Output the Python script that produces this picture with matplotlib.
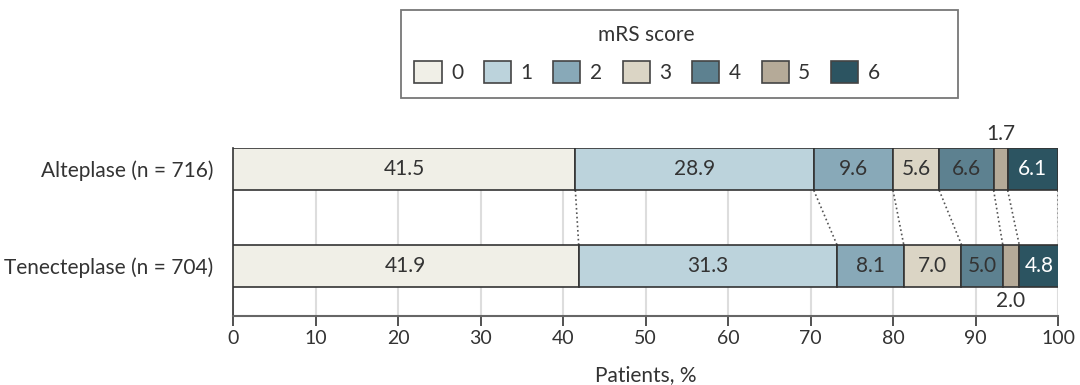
import matplotlib
matplotlib.use("Agg")
import matplotlib.pyplot as plt
from matplotlib.patches import Patch, Rectangle
import numpy as np

plt.rcParams['font.family'] = ['Lato', 'DejaVu Sans']

groups = ["Tenecteplase (n = 704)", "Alteplase (n = 716)"]
scores = ["0", "1", "2", "3", "4", "5", "6"]
tenecteplase = [41.9, 31.3, 8.1, 7.0, 5.0, 2.0, 4.8]
alteplase = [41.5, 28.9, 9.6, 5.6, 6.6, 1.7, 6.1]
colors = ["#f0efe7", "#bcd3dc", "#88a9b8", "#dbd5c5", "#5d8190", "#b5aa98", "#2c5461"]
text_colors = ["#333333"] * 6 + ["white"]

fig = plt.figure(figsize=(10.8, 3.85), dpi=100)
ax = fig.add_axes([233 / 1080, 1 - 316 / 385, 825 / 1080, 168 / 385])

h = 0.44
data = [tenecteplase, alteplase]
for yi, vals in enumerate(data):
    left = 0
    for k, v in enumerate(vals):
        ax.barh(yi, v, left=left, height=h, color=colors[k],
                edgecolor="#333333", linewidth=1.2, zorder=3)
        cx = left + v / 2
        if k == 5:
            # small segment: label outside the bar
            if yi == 1:
                ax.text(cx, yi + h / 2 + 0.04, "%.1f" % v, ha="center", va="bottom",
                        fontsize=15, color="#333333", clip_on=False)
            else:
                ax.text(cx, yi - h / 2 - 0.04, "%.1f" % v, ha="center", va="top",
                        fontsize=15, color="#333333")
        else:
            ax.text(cx, yi, "%.1f" % v, ha="center", va="center",
                    fontsize=15, color=text_colors[k], zorder=4)
        left += v

# dotted connectors between the bars
cum_a = np.cumsum(alteplase)
cum_t = np.cumsum(tenecteplase)
for a, t in zip(cum_a, cum_t):
    ax.plot([a, t], [1 - h / 2, h / 2], ls=":", color="#555555", lw=1.2, zorder=2)

ax.set_xlim(0, 100)
ax.set_ylim(-0.515, 1.216)
ax.set_xticks(range(0, 101, 10))
ax.set_yticks([0, 1])
ax.set_yticklabels(groups, fontsize=15, color="#333333")
ax.tick_params(axis="y", length=0, pad=14)
ax.tick_params(axis="x", labelsize=14, colors="#333333", length=7, width=1.2, pad=3)
ax.xaxis.grid(True, color="#dddddd", lw=1.5, zorder=0)
ax.set_axisbelow(True)
for s in ["top", "right"]:
    ax.spines[s].set_visible(False)
ax.spines["left"].set_color("#333333")
ax.spines["bottom"].set_color("#666666")
ax.spines["left"].set_linewidth(1.2)
ax.spines["bottom"].set_linewidth(1.5)
ax.set_xlabel("Patients, %", fontsize=15, color="#333333", labelpad=13)

# legend with box
fig.patches.append(Rectangle((401 / 1080, 1 - 98 / 385), 557 / 1080, 88 / 385,
                             transform=fig.transFigure, facecolor="white",
                             edgecolor="#777777", lw=1.3))
handles = [Patch(facecolor=c, edgecolor="#444444", lw=1.2) for c in colors]
fig.text(646 / 1080, 1 - 35 / 385, "mRS score", ha="center", va="center",
         fontsize=15, color="#333333")
fig.legend(handles, scores, loc="center", bbox_to_anchor=(647 / 1080, 1 - 72 / 385),
           ncol=7, frameon=False, fontsize=15, handlelength=1.3, handleheight=1.3,
           handletextpad=0.45, columnspacing=1.0, labelcolor="#333333")

fig.savefig("out.png", dpi=100)
